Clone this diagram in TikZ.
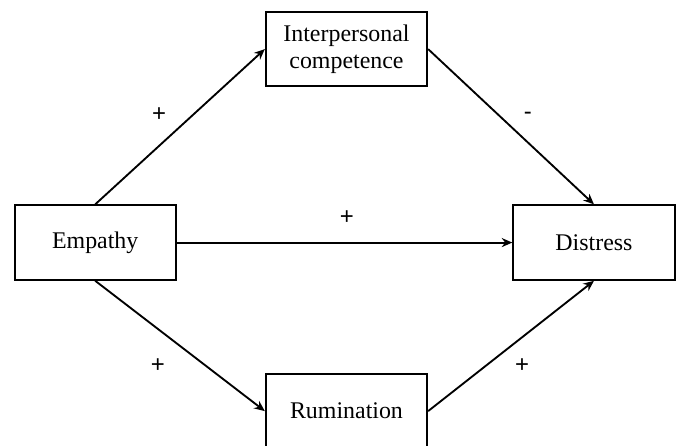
\documentclass[tikz,border=0pt]{standalone}
\usepackage{fontspec}
\setmainfont{Liberation Serif}
\setsansfont{Liberation Sans}
\usetikzlibrary{arrows.meta, positioning}

\begin{document}
\begin{tikzpicture}[
    block/.style={rectangle, draw, line width=1.5pt, minimum width=4.27cm, minimum height=1.97cm, align=center, font=\fontsize{18}{20}\selectfont},
    arrow/.style={-{Stealth[length=2.8mm, width=2.4mm]}, line width=1.4pt},
    sign/.style={font=\sffamily\fontsize{18}{18}\selectfont}
]
    \useasboundingbox (0,0) rectangle (17.97,11.78);

    % Boxes
    \node[block] (empathy) at (2.52, 5.36) {Empathy};
    \node[block] (distress) at (15.72, 5.36) {Distress};
    \node[block] (interp) at (9.17, 10.48) {Interpersonal\\competence};
    \node[block] (rumination) at (9.17, 0.90) {Rumination};

    % Paths
    \draw[arrow] (empathy.north) -- (interp.west);
    \draw[arrow] (interp.east) -- (distress.north);
    \draw[arrow] (empathy.east) -- (distress.west);
    \draw[arrow] (empathy.south) -- (rumination.west);
    \draw[arrow] (rumination.east) -- (distress.south);

    % Signs
    \node[sign] (s1) at (4.21, 8.76) {+};
    \node[sign] (s2) at (13.97, 8.71) {-};
    \node[sign] (s3) at (9.18, 6.01) {+};
    \node[sign] (s4) at (4.18, 2.10) {+};
    \node[sign] (s5) at (13.82, 2.10) {+};

\end{tikzpicture}
\end{document}
